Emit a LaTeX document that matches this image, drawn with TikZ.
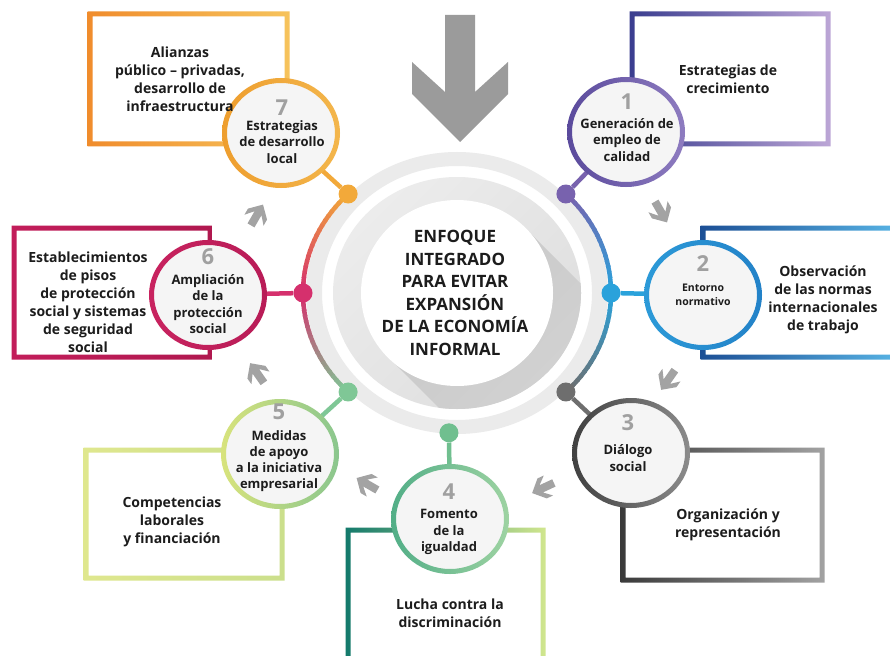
\documentclass[tikz,border=0pt]{standalone}
\usepackage{fontspec}
\setmainfont{Open Sans}
\usetikzlibrary{shapes.geometric}

\definecolor{ink}{HTML}{1C1C1C}
\definecolor{numgray}{HTML}{A0A0A0}
\definecolor{arrowgray}{HTML}{A3A3A3}
\definecolor{bigarrowgray}{HTML}{9B9B9B}
\definecolor{bandgray}{HTML}{EBEBEB}
\definecolor{discA}{HTML}{ECECEC}
\definecolor{discB}{HTML}{DEDEDE}
\definecolor{shadowA}{HTML}{C8C8C8}
\definecolor{shadowB}{HTML}{D6D6D6}
\definecolor{bubblefill}{HTML}{F5F5F5}
\definecolor{col1}{HTML}{7862AE}
\definecolor{col2}{HTML}{2AA2DB}
\definecolor{col3}{HTML}{6E6E6E}
\definecolor{col4}{HTML}{70BF8F}
\definecolor{col5}{HTML}{7FC796}
\definecolor{col6}{HTML}{D5306D}
\definecolor{col7}{HTML}{F2A93A}
% frame colours (left, right)
\definecolor{frA7}{HTML}{F08C2C}\definecolor{frB7}{HTML}{F6C35C}
\definecolor{frA1}{HTML}{3A3D8F}\definecolor{frB1}{HTML}{BCA6D6}
\definecolor{frA2}{HTML}{1C4F95}\definecolor{frB2}{HTML}{5AB8E8}
\definecolor{frA3}{HTML}{3A3A3A}\definecolor{frB3}{HTML}{A2A2A2}
\definecolor{frA4}{HTML}{147A6C}\definecolor{frB4}{HTML}{D0E68E}
\definecolor{frA5}{HTML}{DFE78E}\definecolor{frB5}{HTML}{CBDF8C}
\definecolor{frA6}{HTML}{C21D5A}\definecolor{frB6}{HTML}{B0184F}
% bubble rim colours (left, right)
\definecolor{rmA1}{HTML}{5A4A9C}\definecolor{rmB1}{HTML}{8E7CC0}
\definecolor{rmA2}{HTML}{2C9AD8}\definecolor{rmB2}{HTML}{2382C8}
\definecolor{rmA3}{HTML}{404040}\definecolor{rmB3}{HTML}{8C8C8C}
\definecolor{rmA4}{HTML}{52AE87}\definecolor{rmB4}{HTML}{9ED3A2}
\definecolor{rmA5}{HTML}{D8E37C}\definecolor{rmB5}{HTML}{8AC68E}
\definecolor{rmA6}{HTML}{C8235F}\definecolor{rmB6}{HTML}{B81C57}
\definecolor{rmA7}{HTML}{EE9E2E}\definecolor{rmB7}{HTML}{F3B64C}

% frame drawn as a shaded band between two rectangles
\newcommand\gradframe[6]{%
  \shade[left color=#5,right color=#6,even odd rule]
    (#1-2.5,#2-2.5) rectangle (#3+2.5,#4+2.5)
    (#1+2.5,#2+2.5) rectangle (#3-2.5,#4-2.5);}

% shaded rim of a bubble node
\newcommand\bubblerim[3]{%
  \shade[left color=#2,right color=#3,even odd rule]
    (#1.center) ellipse[x radius=59,y radius=55]
    (#1.center) ellipse[x radius=54,y radius=50];}

% colour-blended arc of the outer ring, angle #1 to #2
\newcommand\ringpart[4]{%
  \foreach \k in {0,...,19}{%
    \pgfmathsetmacro\angA{#1+(#2-#1)*\k/20}%
    \pgfmathsetmacro\angB{#1+(#2-#1)*(\k+1.3)/20}%
    \pgfmathsetmacro\mixp{100*\k/19}%
    \draw[ringline,draw=#4!\mixp!#3]
      plot[domain=\angA:\angB,samples=5] ({457+154*cos(\x)},{293-140*sin(\x)});
  }}

\tikzset{
  ringline/.style={line width=4.5pt},
  link/.style={line width=4.5pt},
  dot/.style={circle,minimum size=19pt,inner sep=0pt},
  bubble/.style={ellipse,minimum width=113pt,minimum height=105pt,inner sep=0pt,fill=bubblefill},
  boxtext/.style={font=\bfseries\fontsize{14}{18}\selectfont,align=center,text=ink,inner sep=0pt},
  bubbletext/.style={font=\bfseries\fontsize{13}{16.5}\selectfont,align=center,text=ink,inner sep=0pt},
  smallbubbletext/.style={font=\bfseries\fontsize{10.5}{14}\selectfont,align=center,text=ink,inner sep=0pt},
  numtext/.style={font=\bfseries\fontsize{22}{22}\selectfont,text=numgray,inner sep=0pt},
  coretext/.style={font=\bfseries\fontsize{17}{22.5}\selectfont,align=center,text=ink,inner sep=0pt},
  flowarrow/.pic={\fill[arrowgray] (-12,-4) -- (2,-4) -- (-6,-11) -- (1,-11) -- (12,0)
      -- (1,11) -- (-6,11) -- (2,4) -- (-12,4) -- cycle;}
}

\begin{document}
\begin{tikzpicture}[x=1pt,y=-1pt]
\useasboundingbox (0,0) rectangle (890,655);
\fill[white] (0,0) rectangle (890,655);

% outer frames
\gradframe{90}{14}{287}{144}{frA7}{frB7}
\gradframe{632}{14}{828}{144}{frA1}{frB1}
\gradframe{703}{228}{905}{357}{frA2}{frB2}
\gradframe{623}{450}{822}{580}{frA3}{frB3}
\gradframe{348}{530}{543}{670}{frA4}{frB4}
\gradframe{86}{450}{282}{578}{frA5}{frB5}
\gradframe{14}{228}{210}{357}{frA6}{frB6}

% central disc with its long shadow
\fill[bandgray,even odd rule] (457,293) ellipse[x radius=151,y radius=141]
  (457,293) ellipse[x radius=135,y radius=127];
\shade[top color=discA,bottom color=discB,shading angle=45]
  (457,293) ellipse[x radius=124,y radius=116];
\begin{scope}
  \clip (457,293) ellipse[x radius=124,y radius=116];
  \shade[top color=shadowA,bottom color=shadowB,shading angle=45]
    (524,227) -- (644,347) -- (510,479) -- (390,359) -- cycle;
\end{scope}
\node[ellipse,minimum width=192pt,minimum height=186pt,inner sep=0pt,fill=white] (core) at (457,293) {};
\node[coretext] (coretitle) at (455,293)
  {ENFOQUE\\INTEGRADO\\PARA EVITAR\\EXPANSIÓN\\DE LA ECONOMÍA\\INFORMAL};

% coloured ring
\ringpart{45}{0}{col1}{col2}
\ringpart{0}{-45}{col2}{col3}
\ringpart{135}{180}{col7}{col6}
\ringpart{180}{225}{col6}{col5}

% ring dots
\node[dot,fill=col1] (d1) at ({457+154*cos(45)},{293-140*sin(45)}) {};
\node[dot,fill=col2] (d2) at (611,293) {};
\node[dot,fill=col3] (d3) at ({457+154*cos(-45)},{293-140*sin(-45)}) {};
\node[dot,fill=col4] (d4) at ({457+154*cos(-93)},{293-140*sin(-93)}) {};
\node[dot,fill=col5] (d5) at ({457+154*cos(225)},{293-140*sin(225)}) {};
\node[dot,fill=col6] (d6) at (303,293) {};
\node[dot,fill=col7] (d7) at ({457+154*cos(135)},{293-140*sin(135)}) {};

% bubbles
\node[bubble] (c1) at (626,132) {};
\node[bubble] (c2) at (703,295) {};
\node[bubble] (c3) at (631,453) {};
\node[bubble] (c4) at (450,519) {};
\node[bubble] (c5) at (280,454) {};
\node[bubble] (c6) at (208,295) {};
\node[bubble] (c7) at (281,133) {};

% links from ring to bubbles
\draw[link,draw=col1] (d1) -- (c1);
\draw[link,draw=col2] (d2) -- (c2);
\draw[link,draw=col3] (d3) -- (c3);
\draw[link,draw=col4] (d4) -- (c4);
\draw[link,draw=col5] (d5) -- (c5);
\draw[link,draw=col6] (d6) -- (c6);
\draw[link,draw=col7] (d7) -- (c7);

\bubblerim{c1}{rmA1}{rmB1}
\bubblerim{c2}{rmA2}{rmB2}
\bubblerim{c3}{rmA3}{rmB3}
\bubblerim{c4}{rmA4}{rmB4}
\bubblerim{c5}{rmA5}{rmB5}
\bubblerim{c6}{rmA6}{rmB6}
\bubblerim{c7}{rmA7}{rmB7}

% numbers
\node[numtext] (n1) at (627,102) {1};
\node[numtext] (n2) at (703,264) {2};
\node[numtext] (n3) at (628,423) {3};
\node[numtext] (n4) at (449,492) {4};
\node[numtext] (n5) at (279,412) {5};
\node[numtext] (n6) at (208,257) {6};
\node[numtext] (n7) at (282,108) {7};

% bubble labels
\node[bubbletext] (t1) at (627,140) {Generación de\\empleo de\\calidad};
\node[smallbubbletext] (t2) at (703,295) {Entorno\\normativo};
\node[bubbletext] (t3) at (628,458) {Diálogo\\social};
\node[bubbletext] (t4) at (449,532) {Fomento\\de la\\igualdad};
\node[bubbletext,font=\bfseries\fontsize{13}{16}\selectfont] (t5) at (279,461) {Medidas\\de apoyo\\a la iniciativa\\empresarial};
\node[bubbletext] (t6) at (208,304) {Ampliación\\de la\\protección\\social};
\node[bubbletext] (t7) at (282,142) {Estrategias\\de desarrollo\\local};

% frame labels
\node[boxtext] (b7) at (180,79) {Alianzas\\público \textendash{} privadas,\\desarrollo de\\infraestructura};
\node[boxtext] (b1) at (728,79) {Estrategias de\\crecimiento};
\node[boxtext] (b2) at (823,300) {Observación\\de las normas\\internacionales\\de trabajo};
\node[boxtext] (b3) at (728,525) {Organización y\\representación};
\node[boxtext] (b4) at (450,613) {Lucha contra la\\discriminación};
\node[boxtext] (b5) at (172,522) {Competencias\\laborales\\y financiación};
\node[boxtext] (b6) at (88,302) {Establecimientos\\de pisos\\de protección\\social y sistemas\\de seguridad\\social};

% flow arrows between bubbles
\pic[rotate=-60] at (661,212) {flowarrow};
\pic[rotate=-125] at (668,380) {flowarrow};
\pic[rotate=-155] at (543,488) {flowarrow};
\pic[rotate=150] at (367,484) {flowarrow};
\pic[rotate=125] at (257,373) {flowarrow};
\pic[rotate=60] at (257,215) {flowarrow};

% big arrow at the top
\fill[bigarrowgray] (445,15) -- (475,15) -- (475,92) -- (508,62) -- (508,94)
  -- (460,142) -- (412,94) -- (412,62) -- (445,92) -- cycle;
\end{tikzpicture}
\end{document}
